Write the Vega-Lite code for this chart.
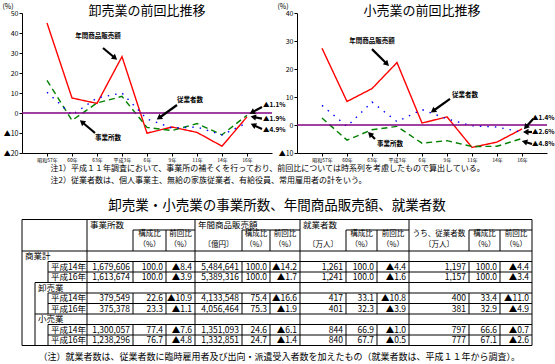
{
  "$schema": "https://vega.github.io/schema/vega-lite/v6.json",
  "background": "white",
  "padding": {"left": 2, "top": 2, "right": 0, "bottom": 0},
  "config": {
    "font": "Noto Sans CJK JP",
    "view": {"stroke": null},
    "axis": {"domainColor": "black", "tickColor": "black", "labelColor": "black", "titleColor": "black", "grid": false, "titleFontWeight": "normal"},
    "title": {"color": "black", "fontWeight": "normal"},
    "text": {"color": "black"}
  },
  "datasets": {
    "series": [
      {"業種": "卸売業", "系列": "年間商品販売額", "年": "昭和57年", "前回比": 45.0},
      {"業種": "卸売業", "系列": "年間商品販売額", "年": "60年", "前回比": 7.5},
      {"業種": "卸売業", "系列": "年間商品販売額", "年": "63年", "前回比": 4.8},
      {"業種": "卸売業", "系列": "年間商品販売額", "年": "平成3年", "前回比": 28.2},
      {"業種": "卸売業", "系列": "年間商品販売額", "年": "6年", "前回比": -10.1},
      {"業種": "卸売業", "系列": "年間商品販売額", "年": "9年", "前回比": -7.0},
      {"業種": "卸売業", "系列": "年間商品販売額", "年": "11年", "前回比": -9.7},
      {"業種": "卸売業", "系列": "年間商品販売額", "年": "14年", "前回比": -16.6},
      {"業種": "卸売業", "系列": "年間商品販売額", "年": "16年", "前回比": -1.9},
      {"業種": "卸売業", "系列": "事業所数", "年": "昭和57年", "前回比": 16.3},
      {"業種": "卸売業", "系列": "事業所数", "年": "60年", "前回比": -3.7},
      {"業種": "卸売業", "系列": "事業所数", "年": "63年", "前回比": 5.0},
      {"業種": "卸売業", "系列": "事業所数", "年": "平成3年", "前回比": 8.3},
      {"業種": "卸売業", "系列": "事業所数", "年": "6年", "前回比": -7.2},
      {"業種": "卸売業", "系列": "事業所数", "年": "9年", "前回比": -8.8},
      {"業種": "卸売業", "系列": "事業所数", "年": "11年", "前回比": -5.3},
      {"業種": "卸売業", "系列": "事業所数", "年": "14年", "前回比": -10.9},
      {"業種": "卸売業", "系列": "事業所数", "年": "16年", "前回比": -1.1},
      {"業種": "卸売業", "系列": "従業者数", "年": "昭和57年", "前回比": 10.4},
      {"業種": "卸売業", "系列": "従業者数", "年": "60年", "前回比": -1.0},
      {"業種": "卸売業", "系列": "従業者数", "年": "63年", "前回比": 7.5},
      {"業種": "卸売業", "系列": "従業者数", "年": "平成3年", "前回比": 10.0},
      {"業種": "卸売業", "系列": "従業者数", "年": "6年", "前回比": -3.0},
      {"業種": "卸売業", "系列": "従業者数", "年": "9年", "前回比": -7.5},
      {"業種": "卸売業", "系列": "従業者数", "年": "11年", "前回比": -7.0},
      {"業種": "卸売業", "系列": "従業者数", "年": "14年", "前回比": -11.0},
      {"業種": "卸売業", "系列": "従業者数", "年": "16年", "前回比": -4.9},
      {"業種": "小売業", "系列": "年間商品販売額", "年": "昭和57年", "前回比": 27.4},
      {"業種": "小売業", "系列": "年間商品販売額", "年": "60年", "前回比": 8.4},
      {"業種": "小売業", "系列": "年間商品販売額", "年": "63年", "前回比": 13.0},
      {"業種": "小売業", "系列": "年間商品販売額", "年": "平成3年", "前回比": 22.3},
      {"業種": "小売業", "系列": "年間商品販売額", "年": "6年", "前回比": 0.7},
      {"業種": "小売業", "系列": "年間商品販売額", "年": "9年", "前回比": 2.9},
      {"業種": "小売業", "系列": "年間商品販売額", "年": "11年", "前回比": -8.0},
      {"業種": "小売業", "系列": "年間商品販売額", "年": "14年", "前回比": -6.1},
      {"業種": "小売業", "系列": "年間商品販売額", "年": "16年", "前回比": -1.4},
      {"業種": "小売業", "系列": "事業所数", "年": "昭和57年", "前回比": 2.5},
      {"業種": "小売業", "系列": "事業所数", "年": "60年", "前回比": -5.4},
      {"業種": "小売業", "系列": "事業所数", "年": "63年", "前回比": -1.7},
      {"業種": "小売業", "系列": "事業所数", "年": "平成3年", "前回比": -0.5},
      {"業種": "小売業", "系列": "事業所数", "年": "6年", "前回比": -6.5},
      {"業種": "小売業", "系列": "事業所数", "年": "9年", "前回比": -5.6},
      {"業種": "小売業", "系列": "事業所数", "年": "11年", "前回比": -7.7},
      {"業種": "小売業", "系列": "事業所数", "年": "14年", "前回比": -7.6},
      {"業種": "小売業", "系列": "事業所数", "年": "16年", "前回比": -4.8},
      {"業種": "小売業", "系列": "従業者数", "年": "昭和57年", "前回比": 7.0},
      {"業種": "小売業", "系列": "従業者数", "年": "60年", "前回比": -0.5},
      {"業種": "小売業", "系列": "従業者数", "年": "63年", "前回比": 8.2},
      {"業種": "小売業", "系列": "従業者数", "年": "平成3年", "前回比": 1.2},
      {"業種": "小売業", "系列": "従業者数", "年": "6年", "前回比": 5.5},
      {"業種": "小売業", "系列": "従業者数", "年": "9年", "前回比": 2.2},
      {"業種": "小売業", "系列": "従業者数", "年": "11年", "前回比": -0.3},
      {"業種": "小売業", "系列": "従業者数", "年": "14年", "前回比": -0.7},
      {"業種": "小売業", "系列": "従業者数", "年": "16年", "前回比": -2.6}
    ],
    "notes": [
      {"業種": "卸売業", "種類": "center", "文字": "年間商品販売額", "i": 2.04, "v": 38.5},
      {"業種": "卸売業", "種類": "center", "文字": "従業者数", "i": 5.72, "v": 6.5},
      {"業種": "卸売業", "種類": "center", "文字": "事業所数", "i": 2.44, "v": -12.5},
      {"業種": "卸売業", "種類": "left", "文字": "▲1.1%", "i": 8.64, "v": 4},
      {"業種": "卸売業", "種類": "left", "文字": "▲1.9%", "i": 8.64, "v": -3},
      {"業種": "卸売業", "種類": "left", "文字": "▲4.9%", "i": 8.64, "v": -8.5},
      {"業種": "小売業", "種類": "center", "文字": "年間商品販売額", "i": 2.0, "v": 30},
      {"業種": "小売業", "種類": "center", "文字": "従業者数", "i": 5.72, "v": 10.7},
      {"業種": "小売業", "種類": "center", "文字": "事業所数", "i": 2.72, "v": -6.8},
      {"業種": "小売業", "種類": "left", "文字": "▲1.4%", "i": 8.4, "v": 2.5},
      {"業種": "小売業", "種類": "left", "文字": "▲2.6%", "i": 8.4, "v": -2.5},
      {"業種": "小売業", "種類": "left", "文字": "▲4.8%", "i": 8.4, "v": -6.8}
    ],
    "arrows": [
      {"業種": "卸売業", "i": 2.24, "v": 32.5, "i2": 2.72, "v2": 27.5},
      {"業種": "卸売業", "i": 5.2, "v": 4, "i2": 4.48, "v2": -2.5},
      {"業種": "卸売業", "i": 1.92, "v": -10, "i2": 1.4, "v2": -4.5},
      {"業種": "卸売業", "i": 8.6, "v": 3, "i2": 8.2, "v2": 0.3},
      {"業種": "卸売業", "i": 8.6, "v": -2.8, "i2": 8.25, "v2": -2},
      {"業種": "卸売業", "i": 8.6, "v": -8, "i2": 8.25, "v2": -6},
      {"業種": "小売業", "i": 2.0, "v": 27.1, "i2": 2.6, "v2": 21.8},
      {"業種": "小売業", "i": 5.12, "v": 9.3, "i2": 4.44, "v2": 5},
      {"業種": "小売業", "i": 2.12, "v": -5, "i2": 1.92, "v2": -3.2},
      {"業種": "小売業", "i": 8.45, "v": 2.2, "i2": 8.15, "v2": -0.8},
      {"業種": "小売業", "i": 8.4, "v": -2.5, "i2": 8.15, "v2": -2.5},
      {"業種": "小売業", "i": 8.4, "v": -6.8, "i2": 8.1, "v2": -6}
    ],
    "cols": [
      {"col": "lab", "x0": 0, "x1": 65, "xc": 32.5},
      {"col": "lab2", "x0": 13, "x1": 65, "xc": 39},
      {"col": "year", "x0": 26, "x1": 65, "xc": 45.5},
      {"col": "e", "x0": 65, "x1": 111, "xc": 88},
      {"col": "e_r", "x0": 111, "x1": 144, "xc": 127.5},
      {"col": "e_p", "x0": 144, "x1": 173, "xc": 158.5},
      {"col": "s", "x0": 173, "x1": 220, "xc": 196.5},
      {"col": "s_r", "x0": 220, "x1": 248, "xc": 234},
      {"col": "s_p", "x0": 248, "x1": 278, "xc": 263},
      {"col": "w", "x0": 278, "x1": 324, "xc": 301},
      {"col": "w_r", "x0": 324, "x1": 355, "xc": 339.5},
      {"col": "w_p", "x0": 355, "x1": 387, "xc": 371},
      {"col": "j", "x0": 387, "x1": 447, "xc": 417},
      {"col": "j_r", "x0": 447, "x1": 478, "xc": 462.5},
      {"col": "j_p", "x0": 478, "x1": 510, "xc": 494}
    ],
    "table": [
      {"row": "b2", "区分": "商業計", "年": "平成14年", "e": "1,679,606", "e_r": "100.0", "e_p": "▲8.4", "s": "5,484,641", "s_r": "100.0", "s_p": "▲14.2", "w": "1,261", "w_r": "100.0", "w_p": "▲4.4", "j": "1,197", "j_r": "100.0", "j_p": "▲4.4"},
      {"row": "b3", "区分": "商業計", "年": "平成16年", "e": "1,613,674", "e_r": "100.0", "e_p": "▲3.9", "s": "5,389,316", "s_r": "100.0", "s_p": "▲1.7", "w": "1,241", "w_r": "100.0", "w_p": "▲1.6", "j": "1,157", "j_r": "100.0", "j_p": "▲3.4"},
      {"row": "b5", "区分": "卸売業", "年": "平成14年", "e": "379,549", "e_r": "22.6", "e_p": "▲10.9", "s": "4,133,548", "s_r": "75.4", "s_p": "▲16.6", "w": "417", "w_r": "33.1", "w_p": "▲10.8", "j": "400", "j_r": "33.4", "j_p": "▲11.0"},
      {"row": "b6", "区分": "卸売業", "年": "平成16年", "e": "375,378", "e_r": "23.3", "e_p": "▲1.1", "s": "4,056,464", "s_r": "75.3", "s_p": "▲1.9", "w": "401", "w_r": "32.3", "w_p": "▲3.9", "j": "381", "j_r": "32.9", "j_p": "▲4.9"},
      {"row": "b8", "区分": "小売業", "年": "平成14年", "e": "1,300,057", "e_r": "77.4", "e_p": "▲7.6", "s": "1,351,093", "s_r": "24.6", "s_p": "▲6.1", "w": "844", "w_r": "66.9", "w_p": "▲1.0", "j": "797", "j_r": "66.6", "j_p": "▲0.7"},
      {"row": "b9", "区分": "小売業", "年": "平成16年", "e": "1,238,296", "e_r": "76.7", "e_p": "▲4.8", "s": "1,332,851", "s_r": "24.7", "s_p": "▲1.4", "w": "840", "w_r": "67.7", "w_p": "▲0.5", "j": "777", "j_r": "67.1", "j_p": "▲2.6"}
    ],
    "tleft": [
      {"row": "h1", "col": "e", "text": "事業所数"},
      {"row": "h1", "col": "s", "text": "年間商品販売額"},
      {"row": "h1", "col": "w", "text": "就業者数"},
      {"row": "b1", "col": "lab", "text": "商業計"},
      {"row": "b2", "col": "year", "text": "平成14年"},
      {"row": "b3", "col": "year", "text": "平成16年"},
      {"row": "b4", "col": "lab2", "text": "卸売業"},
      {"row": "b5", "col": "year", "text": "平成14年"},
      {"row": "b6", "col": "year", "text": "平成16年"},
      {"row": "b7", "col": "lab2", "text": "小売業"},
      {"row": "b8", "col": "year", "text": "平成14年"},
      {"row": "b9", "col": "year", "text": "平成16年"}
    ],
    "tcenter": [
      {"row": "h2", "col": "e_r", "text": "構成比"},
      {"row": "h3", "col": "e_r", "text": "（%）"},
      {"row": "h2", "col": "e_p", "text": "前回比"},
      {"row": "h3", "col": "e_p", "text": "（%）"},
      {"row": "h3", "col": "s", "text": "〔億円〕"},
      {"row": "h2", "col": "s_r", "text": "構成比"},
      {"row": "h3", "col": "s_r", "text": "（%）"},
      {"row": "h2", "col": "s_p", "text": "前回比"},
      {"row": "h3", "col": "s_p", "text": "（%）"},
      {"row": "h3", "col": "w", "text": "〔万人〕"},
      {"row": "h2", "col": "w_r", "text": "構成比"},
      {"row": "h3", "col": "w_r", "text": "（%）"},
      {"row": "h2", "col": "w_p", "text": "前回比"},
      {"row": "h3", "col": "w_p", "text": "（%）"},
      {"row": "h2", "col": "j", "text": "うち、従業者数"},
      {"row": "h3", "col": "j", "text": "〔万人〕"},
      {"row": "h2", "col": "j_r", "text": "構成比"},
      {"row": "h3", "col": "j_r", "text": "（%）"},
      {"row": "h2", "col": "j_p", "text": "前回比"},
      {"row": "h3", "col": "j_p", "text": "（%）"}
    ],
    "tlines": [
      {"x": 0, "x2": 510, "y": 0, "y2": 0},
      {"x": 111, "x2": 173, "y": 1, "y2": 1},
      {"x": 220, "x2": 278, "y": 1, "y2": 1},
      {"x": 324, "x2": 387, "y": 1, "y2": 1},
      {"x": 447, "x2": 510, "y": 1, "y2": 1},
      {"x": 0, "x2": 510, "y": 3, "y2": 3},
      {"x": 26, "x2": 510, "y": 4, "y2": 4},
      {"x": 26, "x2": 510, "y": 5, "y2": 5},
      {"x": 13, "x2": 510, "y": 6, "y2": 6},
      {"x": 26, "x2": 510, "y": 7, "y2": 7},
      {"x": 26, "x2": 510, "y": 8, "y2": 8},
      {"x": 13, "x2": 510, "y": 9, "y2": 9},
      {"x": 26, "x2": 510, "y": 10, "y2": 10},
      {"x": 26, "x2": 510, "y": 11, "y2": 11},
      {"x": 0, "x2": 510, "y": 12, "y2": 12},
      {"x": 0, "x2": 0, "y": 0, "y2": 12},
      {"x": 13, "x2": 13, "y": 6, "y2": 12},
      {"x": 26, "x2": 26, "y": 4, "y2": 6},
      {"x": 26, "x2": 26, "y": 7, "y2": 9},
      {"x": 26, "x2": 26, "y": 10, "y2": 12},
      {"x": 65, "x2": 65, "y": 0, "y2": 12},
      {"x": 173, "x2": 173, "y": 0, "y2": 12},
      {"x": 278, "x2": 278, "y": 0, "y2": 12},
      {"x": 387, "x2": 387, "y": 0, "y2": 12},
      {"x": 510, "x2": 510, "y": 0, "y2": 12},
      {"x": 111, "x2": 111, "y": 1, "y2": 3}, {"x": 111, "x2": 111, "y": 4, "y2": 6}, {"x": 111, "x2": 111, "y": 7, "y2": 9}, {"x": 111, "x2": 111, "y": 10, "y2": 12},
      {"x": 144, "x2": 144, "y": 1, "y2": 3}, {"x": 144, "x2": 144, "y": 4, "y2": 6}, {"x": 144, "x2": 144, "y": 7, "y2": 9}, {"x": 144, "x2": 144, "y": 10, "y2": 12},
      {"x": 220, "x2": 220, "y": 1, "y2": 3}, {"x": 220, "x2": 220, "y": 4, "y2": 6}, {"x": 220, "x2": 220, "y": 7, "y2": 9}, {"x": 220, "x2": 220, "y": 10, "y2": 12},
      {"x": 248, "x2": 248, "y": 1, "y2": 3}, {"x": 248, "x2": 248, "y": 4, "y2": 6}, {"x": 248, "x2": 248, "y": 7, "y2": 9}, {"x": 248, "x2": 248, "y": 10, "y2": 12},
      {"x": 324, "x2": 324, "y": 1, "y2": 3}, {"x": 324, "x2": 324, "y": 4, "y2": 6}, {"x": 324, "x2": 324, "y": 7, "y2": 9}, {"x": 324, "x2": 324, "y": 10, "y2": 12},
      {"x": 355, "x2": 355, "y": 1, "y2": 3}, {"x": 355, "x2": 355, "y": 4, "y2": 6}, {"x": 355, "x2": 355, "y": 7, "y2": 9}, {"x": 355, "x2": 355, "y": 10, "y2": 12},
      {"x": 447, "x2": 447, "y": 1, "y2": 3}, {"x": 447, "x2": 447, "y": 4, "y2": 6}, {"x": 447, "x2": 447, "y": 7, "y2": 9}, {"x": 447, "x2": 447, "y": 10, "y2": 12},
      {"x": 478, "x2": 478, "y": 1, "y2": 3}, {"x": 478, "x2": 478, "y": 4, "y2": 6}, {"x": 478, "x2": 478, "y": 7, "y2": 9}, {"x": 478, "x2": 478, "y": 10, "y2": 12}
    ]
  },
  "vconcat": [
    {
      "hconcat": [
        {
          "width": 250,
          "height": 140,
          "title": {"text": "卸売業の前回比推移", "fontSize": 13, "frame": "group", "baseline": "middle", "offset": -22, "anchor": "middle"},
          "resolve": {"scale": {"x": "independent"}, "axis": {"y": "independent"}},
          "layer": [
            {
              "data": {"name": "series"},
              "transform": [{"filter": "datum['業種'] === '卸売業'"}],
              "mark": {"type": "line", "strokeWidth": 1.4},
              "encoding": {
                "x": {"field": "年", "type": "ordinal", "sort": null, "scale": {"type": "point", "padding": 1, "domain": ["昭和57年", "60年", "63年", "平成3年", "6年", "9年", "11年", "14年", "16年"]},
                  "axis": {"labelFontSize": 5, "labelAngle": 0, "tickSize": 3, "labelPadding": 1,
                    "title": ["注1）平成１１年調査において、事業所の補そくを行っており、前回比については時系列を考慮したもので算出している。", "注2）従業者数は、個人事業主、無給の家族従業者、有給役員、常用雇用者の計をいう。"],
                    "titleX": 28, "titleY": 11, "titleAlign": "left", "titleBaseline": "top", "titleFontSize": 8, "titleLineHeight": 12.5}},
                "y": {"field": "前回比", "type": "quantitative", "scale": {"domain": [-20, 50], "nice": false, "zero": false},
                  "axis": {"values": [-20, -10, 0, 10, 20, 30, 40, 50], "labelExpr": "datum.value < 0 ? '▲' + abs(datum.value) : '' + datum.value", "labelFontSize": 7, "tickSize": 3, "labelPadding": 1, "labelOverlap": false, "labelFlush": false,
                    "title": "(%)", "titleAngle": 0, "titleX": -20, "titleY": -7, "titleAlign": "left", "titleBaseline": "middle", "titleFontSize": 7}},
                "color": {"field": "系列", "type": "nominal", "scale": {"domain": ["年間商品販売額", "事業所数", "従業者数"], "range": ["#FF0000", "#008000", "#0000FF"]}, "legend": null},
                "strokeDash": {"field": "系列", "type": "nominal", "scale": {"domain": ["年間商品販売額", "事業所数", "従業者数"], "range": [[1, 0], [6, 4], [1.5, 6]]}, "legend": null}
              }
            },
            {
              "data": {"values": [{}]},
              "mark": {"type": "rule", "color": "#800080", "strokeWidth": 1.5},
              "encoding": {"y": {"datum": 0, "type": "quantitative", "scale": {"domain": [-20, 50], "nice": false, "zero": false}, "axis": null}}
            },
            {
              "data": {"name": "arrows"},
              "transform": [{"filter": "datum['業種'] === '卸売業'"}],
              "mark": {"type": "rule", "color": "black", "strokeWidth": 2.2},
              "encoding": {
                "x": {"field": "i", "type": "quantitative", "scale": {"domain": [-1, 9], "nice": false, "zero": false}, "axis": null},
                "x2": {"field": "i2"},
                "y": {"field": "v", "type": "quantitative", "scale": {"domain": [-20, 50], "nice": false, "zero": false}, "axis": null},
                "y2": {"field": "v2"}
              }
            },
            {
              "data": {"name": "arrows"},
              "transform": [{"filter": "datum['業種'] === '卸売業'"}, {"calculate": "atan2((datum.i2 - datum.i) * 25, (datum.v2 - datum.v) * 2) * 180 / PI", "as": "角度"}],
              "mark": {"type": "point", "shape": "triangle-up", "filled": true, "color": "black", "size": 40, "opacity": 1},
              "encoding": {
                "x": {"field": "i2", "type": "quantitative", "scale": {"domain": [-1, 9], "nice": false, "zero": false}, "axis": null},
                "y": {"field": "v2", "type": "quantitative", "scale": {"domain": [-20, 50], "nice": false, "zero": false}, "axis": null},
                "angle": {"field": "角度", "type": "quantitative", "scale": null}
              }
            },
            {
              "data": {"name": "notes"},
              "transform": [{"filter": "datum['業種'] === '卸売業' && datum['種類'] === 'center'"}],
              "mark": {"type": "text", "align": "center", "baseline": "middle", "fontSize": 6.5, "fontWeight": "bold"},
              "encoding": {
                "x": {"field": "i", "type": "quantitative", "scale": {"domain": [-1, 9], "nice": false, "zero": false}, "axis": null},
                "y": {"field": "v", "type": "quantitative", "scale": {"domain": [-20, 50], "nice": false, "zero": false}, "axis": null},
                "text": {"field": "文字"}
              }
            },
            {
              "data": {"name": "notes"},
              "transform": [{"filter": "datum['業種'] === '卸売業' && datum['種類'] === 'left'"}],
              "mark": {"type": "text", "align": "left", "baseline": "middle", "fontSize": 6.5, "fontWeight": "bold"},
              "encoding": {
                "x": {"field": "i", "type": "quantitative", "scale": {"domain": [-1, 9], "nice": false, "zero": false}, "axis": null},
                "y": {"field": "v", "type": "quantitative", "scale": {"domain": [-20, 50], "nice": false, "zero": false}, "axis": null},
                "text": {"field": "文字"}
              }
            }
          ]
        },
        {
          "width": 250,
          "height": 140,
          "title": {"text": "小売業の前回比推移", "fontSize": 13, "frame": "group", "baseline": "middle", "offset": -22, "anchor": "middle"},
          "resolve": {"scale": {"x": "independent"}, "axis": {"y": "independent"}},
          "layer": [
            {
              "data": {"name": "series"},
              "transform": [{"filter": "datum['業種'] === '小売業'"}],
              "mark": {"type": "line", "strokeWidth": 1.4},
              "encoding": {
                "x": {"field": "年", "type": "ordinal", "sort": null, "scale": {"type": "point", "padding": 1, "domain": ["昭和57年", "60年", "63年", "平成3年", "6年", "9年", "11年", "14年", "16年"]},
                  "axis": {"labelFontSize": 5, "labelAngle": 0, "tickSize": 3, "labelPadding": 1, "title": null}},
                "y": {"field": "前回比", "type": "quantitative", "scale": {"domain": [-10, 40], "nice": false, "zero": false},
                  "axis": {"values": [-10, 0, 10, 20, 30, 40], "labelExpr": "datum.value < 0 ? '▲' + abs(datum.value) : '' + datum.value", "labelFontSize": 7, "tickSize": 3, "labelPadding": 1, "labelOverlap": false, "labelFlush": false,
                    "title": "(%)", "titleAngle": 0, "titleX": -20, "titleY": -7, "titleAlign": "left", "titleBaseline": "middle", "titleFontSize": 7}},
                "color": {"field": "系列", "type": "nominal", "scale": {"domain": ["年間商品販売額", "事業所数", "従業者数"], "range": ["#FF0000", "#008000", "#0000FF"]}, "legend": null},
                "strokeDash": {"field": "系列", "type": "nominal", "scale": {"domain": ["年間商品販売額", "事業所数", "従業者数"], "range": [[1, 0], [6, 4], [1.5, 6]]}, "legend": null}
              }
            },
            {
              "data": {"values": [{}]},
              "mark": {"type": "rule", "color": "#800080", "strokeWidth": 1.5},
              "encoding": {"y": {"datum": 0, "type": "quantitative", "scale": {"domain": [-10, 40], "nice": false, "zero": false}, "axis": null}}
            },
            {
              "data": {"name": "arrows"},
              "transform": [{"filter": "datum['業種'] === '小売業'"}],
              "mark": {"type": "rule", "color": "black", "strokeWidth": 2.2},
              "encoding": {
                "x": {"field": "i", "type": "quantitative", "scale": {"domain": [-1, 9], "nice": false, "zero": false}, "axis": null},
                "x2": {"field": "i2"},
                "y": {"field": "v", "type": "quantitative", "scale": {"domain": [-10, 40], "nice": false, "zero": false}, "axis": null},
                "y2": {"field": "v2"}
              }
            },
            {
              "data": {"name": "arrows"},
              "transform": [{"filter": "datum['業種'] === '小売業'"}, {"calculate": "atan2((datum.i2 - datum.i) * 25, (datum.v2 - datum.v) * 2.8) * 180 / PI", "as": "角度"}],
              "mark": {"type": "point", "shape": "triangle-up", "filled": true, "color": "black", "size": 40, "opacity": 1},
              "encoding": {
                "x": {"field": "i2", "type": "quantitative", "scale": {"domain": [-1, 9], "nice": false, "zero": false}, "axis": null},
                "y": {"field": "v2", "type": "quantitative", "scale": {"domain": [-10, 40], "nice": false, "zero": false}, "axis": null},
                "angle": {"field": "角度", "type": "quantitative", "scale": null}
              }
            },
            {
              "data": {"name": "notes"},
              "transform": [{"filter": "datum['業種'] === '小売業' && datum['種類'] === 'center'"}],
              "mark": {"type": "text", "align": "center", "baseline": "middle", "fontSize": 6.5, "fontWeight": "bold"},
              "encoding": {
                "x": {"field": "i", "type": "quantitative", "scale": {"domain": [-1, 9], "nice": false, "zero": false}, "axis": null},
                "y": {"field": "v", "type": "quantitative", "scale": {"domain": [-10, 40], "nice": false, "zero": false}, "axis": null},
                "text": {"field": "文字"}
              }
            },
            {
              "data": {"name": "notes"},
              "transform": [{"filter": "datum['業種'] === '小売業' && datum['種類'] === 'left'"}],
              "mark": {"type": "text", "align": "left", "baseline": "middle", "fontSize": 6.5, "fontWeight": "bold"},
              "encoding": {
                "x": {"field": "i", "type": "quantitative", "scale": {"domain": [-1, 9], "nice": false, "zero": false}, "axis": null},
                "y": {"field": "v", "type": "quantitative", "scale": {"domain": [-10, 40], "nice": false, "zero": false}, "axis": null},
                "text": {"field": "文字"}
              }
            }
          ]
        }
      ],
      "spacing": 25,
      "bounds": "flush"
    },
    {
      "width": 510,
      "height": 126,
      "title": {"text": "卸売業・小売業の事業所数、年間商品販売額、就業者数", "fontSize": 13.5, "frame": "group", "baseline": "middle", "offset": 4, "dy": 4, "anchor": "middle"},
      "resolve": {"scale": {"y": "independent"}},
      "layer": [
        {
          "data": {"name": "tlines"},
          "mark": {"type": "rule", "color": "black", "strokeWidth": 1},
          "encoding": {
            "x": {"field": "x", "type": "quantitative", "scale": {"domain": [0, 510], "nice": false, "zero": false},
              "axis": {"title": "（注）就業者数は、従業者数に臨時雇用者及び出向・派遣受入者数を加えたもの（就業者数は、平成１１年から調査）。", "titleX": 16, "titleY": 11, "titleAlign": "left", "titleBaseline": "middle", "titleFontSize": 9, "labels": false, "ticks": false, "domain": false, "grid": false}},
            "x2": {"field": "x2"},
            "y": {"field": "y", "type": "quantitative", "scale": {"domain": [0, 12], "reverse": true, "nice": false, "zero": false}, "axis": null},
            "y2": {"field": "y2"}
          }
        },
        {
          "data": {"name": "table"},
          "transform": [
            {"fold": ["e", "e_r", "e_p", "s", "s_r", "s_p", "w", "w_r", "w_p", "j", "j_r", "j_p"], "as": ["col", "text"]},
            {"lookup": "col", "from": {"data": {"name": "cols"}, "key": "col", "fields": ["x1"]}}
          ],
          "mark": {"type": "text", "align": "right", "baseline": "middle", "dx": -3, "fontSize": 8.5},
          "encoding": {
            "x": {"field": "x1", "type": "quantitative", "scale": {"domain": [0, 510], "nice": false, "zero": false}},
            "y": {"field": "row", "type": "nominal", "scale": {"domain": ["h1", "h2", "h3", "b1", "b2", "b3", "b4", "b5", "b6", "b7", "b8", "b9"], "paddingInner": 0, "paddingOuter": 0}, "axis": null},
            "text": {"field": "text"}
          }
        },
        {
          "data": {"name": "tleft"},
          "transform": [{"lookup": "col", "from": {"data": {"name": "cols"}, "key": "col", "fields": ["x0"]}}],
          "mark": {"type": "text", "align": "left", "baseline": "middle", "dx": 3, "fontSize": 8.5},
          "encoding": {
            "x": {"field": "x0", "type": "quantitative", "scale": {"domain": [0, 510], "nice": false, "zero": false}},
            "y": {"field": "row", "type": "nominal", "scale": {"domain": ["h1", "h2", "h3", "b1", "b2", "b3", "b4", "b5", "b6", "b7", "b8", "b9"], "paddingInner": 0, "paddingOuter": 0}, "axis": null},
            "text": {"field": "text"}
          }
        },
        {
          "data": {"name": "tcenter"},
          "transform": [{"lookup": "col", "from": {"data": {"name": "cols"}, "key": "col", "fields": ["xc"]}}],
          "mark": {"type": "text", "align": "center", "baseline": "middle", "dy": -1, "fontSize": 7.5},
          "encoding": {
            "x": {"field": "xc", "type": "quantitative", "scale": {"domain": [0, 510], "nice": false, "zero": false}},
            "y": {"field": "row", "type": "nominal", "scale": {"domain": ["h1", "h2", "h3", "b1", "b2", "b3", "b4", "b5", "b6", "b7", "b8", "b9"], "paddingInner": 0, "paddingOuter": 0}, "axis": null},
            "text": {"field": "text"}
          }
        }
      ]
    }
  ],
  "spacing": 13.5
}
